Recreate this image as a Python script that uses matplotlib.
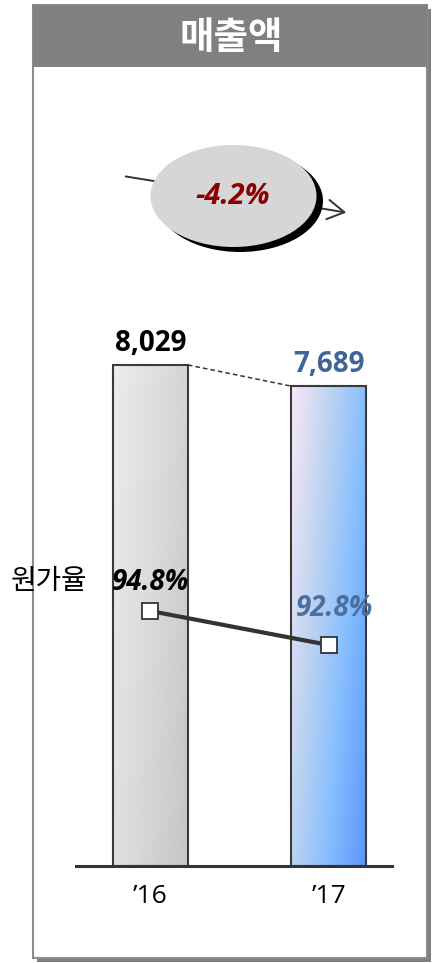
import numpy as np
import matplotlib
matplotlib.use('Agg')
import matplotlib.pyplot as plt
from matplotlib.patches import Rectangle, Ellipse
from matplotlib.colors import LinearSegmentedColormap

plt.rcParams['font.family'] = ['Open Sans', 'Noto Sans CJK KR', 'DejaVu Sans']

# 데이터
title = '매출액'
years = ['\u201916', '\u201917']
sales = [8029, 7689]
sales_labels = ['8,029', '7,689']
cost_ratio = [94.8, 92.8]
ratio_labels = ['94.8%', '92.8%']
ratio_name = '원가율'
growth_label = '-4.2%'

W, H = 432, 963
fig = plt.figure(figsize=(W / 100, H / 100), dpi=100)

# 배경 패널 (픽셀 좌표)
bg = fig.add_axes([0, 0, 1, 1])
bg.set_xlim(0, W)
bg.set_ylim(H, 0)
bg.axis('off')
bg.add_patch(Rectangle((37, 9), 394, 953, facecolor='#7f7f7f', edgecolor='none', zorder=0))
bg.add_patch(Rectangle((33, 5), 394, 953, facecolor='white', edgecolor='#8c8c8c', lw=1.5, zorder=0.5))
bg.add_patch(Rectangle((33, 5), 394, 62, facecolor='#808080', edgecolor='none', zorder=0.6))
bg.text(231, 37, title, color='white', fontsize=27, fontweight='bold',
        family='Noto Sans CJK KR', ha='center', va='center')

# 증감률 화살표 + 타원
bg.annotate('', xy=(349, 213), xytext=(123, 176), zorder=1,
            arrowprops=dict(arrowstyle='->,head_length=0.6,head_width=0.35',
                            mutation_scale=20, color='#333333', lw=1.4))
bg.add_patch(Ellipse((240, 201), 166, 102, facecolor='black', edgecolor='none', zorder=2))
bg.add_patch(Ellipse((233.5, 196), 166, 102, facecolor='#d6d6d6', edgecolor='none', zorder=3))
bg.text(233, 197, growth_label, color='#8b0000', fontsize=21, fontweight='bold',
        fontstyle='italic', ha='center', va='center', zorder=4)

bg.text(49, 581, ratio_name, fontsize=20, family='Noto Sans CJK KR',
        ha='center', va='center', color='black')

# 막대 차트
ax = fig.add_axes([76 / W, (H - 866) / H, 316 / W, 566 / H])
ax.patch.set_alpha(0)
x = np.arange(len(years))
bars = ax.bar(x, sales, width=0.42, facecolor='none', edgecolor='#3a3a3a', lw=1.5, zorder=3)

cmaps = [
    LinearSegmentedColormap.from_list('g1', ['#ececec', '#dadada', '#c6c6c6']),
    LinearSegmentedColormap.from_list('g2', [(0, '#f8e8f8'), (0.35, '#bcd3f0'),
                                             (0.65, '#88bfff'), (1, '#5a98fa')]),
]
u, v = np.meshgrid(np.linspace(0, 1, 60), np.linspace(0, 1, 200))
grad = 0.65 * u + 0.35 * v
for b, cm in zip(bars, cmaps):
    x0, w, h = b.get_x(), b.get_width(), b.get_height()
    im = ax.imshow(grad, cmap=cm, extent=[x0, x0 + w, 0, h], origin='upper',
                   aspect='auto', zorder=2, vmin=0, vmax=1)
    im.set_clip_path(b)

ax.plot([bars[0].get_x() + bars[0].get_width(), bars[1].get_x()], sales,
        ls=(0, (3, 2)), color='#333333', lw=1.1, zorder=3)

label_colors = ['black', '#3f6598']
for xi, v_, lab, c in zip(x, sales, sales_labels, label_colors):
    ax.text(xi, v_ + 220, lab, ha='center', va='baseline', fontsize=20,
            fontweight='bold', color=c)

ax.axhline(0, color='#333333', lw=2.2, zorder=4, clip_on=False)
ax.set_xlim(-0.417, 1.353)
ax.set_ylim(0, 9070)
for s in ax.spines.values():
    s.set_visible(False)
ax.set_yticks([])
ax.set_xticks(x)
ax.set_xticklabels(years, fontsize=19)
ax.tick_params(axis='x', length=0, pad=13)

# 원가율 라인
ax2 = ax.twinx()
ax2.set_ylim(79.8, 113.1)
ax2.axis('off')
ax2.plot(x, cost_ratio, color='#333333', lw=3, marker='s', ms=11,
         mfc='white', mec='#333333', mew=1.3, zorder=5)
ratio_colors = ['black', '#4a6fa0']
ratio_offsets = [(0, 15), (4, 21)]
for xi, r, lab, c, off in zip(x, cost_ratio, ratio_labels, ratio_colors, ratio_offsets):
    ax2.annotate(lab, (xi, r), xytext=off, textcoords='offset points',
                 ha='center', va='baseline', fontsize=20, fontweight='bold',
                 fontstyle='italic', color=c)

fig.savefig('out.png', dpi=100)
